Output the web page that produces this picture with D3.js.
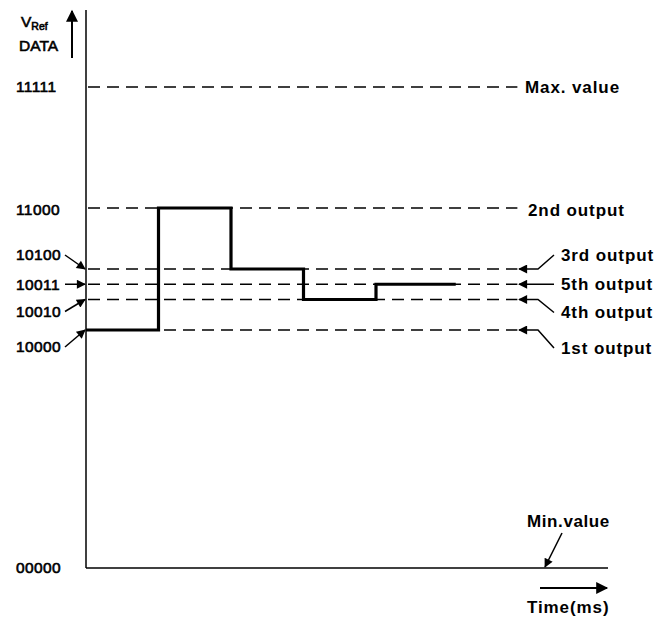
<!DOCTYPE html>
<html>
<head>
<meta charset="utf-8">
<script src="https://cdn.jsdelivr.net/npm/d3@7"></script>
<style>
  html, body { margin: 0; padding: 0; background: #fff; }
  svg { display: block; font-family: "Liberation Sans", Arial, sans-serif; }
</style>
</head>
<body>
<svg id="chart" width="668" height="620"></svg>
<script>
// Digital reference codes shown on the vertical axis
const axisCodes = ["11111", "11000", "10100", "10011", "10010", "10000", "00000"];

// Successive approximation: output code held during each time slot
const stepTimes = [0, 1, 2, 3, 4, 5.1];
const stepCodes = ["10000", "11000", "10100", "10010", "10011"];

// Dashed reference levels and their captions
const refCodes  = ["11111", "11000", "10100", "10011", "10010", "10000"];
const refLabels = ["Max. value", "2nd output", "3rd output", "5th output", "4th output", "1st output"];
const minLabel = "Min.value";
const xTitle = "Time(ms)";

const toVal = s => parseInt(s, 2);

const svg = d3.select("#chart");

const x = d3.scaleLinear().domain([0, 7.2]).range([86, 608]);
const y = d3.scaleLinear().domain([0, 16, 24, 31]).range([568, 330, 208, 87]);

// arrowhead markers
const defs = svg.append("defs");
function marker(id, w, h) {
  defs.append("marker")
    .attr("id", id).attr("viewBox", "0 0 10 10")
    .attr("refX", 9).attr("refY", 5)
    .attr("markerWidth", w).attr("markerHeight", h)
    .attr("markerUnits", "userSpaceOnUse")
    .attr("orient", "auto")
    .append("path").attr("d", "M0,0 L10,5 L0,10 Z").attr("fill", "#000");
}
marker("ah", 12, 9);
marker("ahBig", 18, 12);

// axes
svg.append("line")
  .attr("x1", x(0)).attr("x2", x(0)).attr("y1", 10).attr("y2", y(0))
  .attr("stroke", "#000").attr("stroke-width", 1.5);
svg.append("line")
  .attr("x1", x(0)).attr("x2", x(7.2)).attr("y1", y(0)).attr("y2", y(0))
  .attr("stroke", "#000").attr("stroke-width", 1.5);

// dashed reference levels
const dashEnd = 5.95;
svg.append("g").selectAll("line").data(refCodes).join("line")
  .attr("x1", x(0) + 2).attr("x2", x(dashEnd))
  .attr("y1", d => y(toVal(d))).attr("y2", d => y(toVal(d)))
  .attr("stroke", "#000").attr("stroke-width", 1.6)
  .attr("stroke-dasharray", "12,7");

// step trace of the output code
const stepPts = [];
stepCodes.forEach((c, i) => {
  stepPts.push([stepTimes[i], toVal(c)]);
  stepPts.push([stepTimes[i + 1], toVal(c)]);
});
svg.append("path")
  .attr("d", d3.line().x(d => x(d[0])).y(d => y(d[1]))(stepPts))
  .attr("fill", "none").attr("stroke", "#000").attr("stroke-width", 3.2)
  .attr("stroke-linejoin", "miter");

// left code labels, some pushed apart with pointer arrows
const labelShift = { "11111": 0, "11000": 2, "10100": -14, "10011": 0, "10010": 12, "10000": 17, "00000": 0 };
svg.append("g").selectAll("text").data(axisCodes).join("text")
  .attr("x", 16).attr("y", d => y(toVal(d)) + labelShift[d])
  .attr("dy", "0.35em")
  .attr("font-size", 15.5).attr("fill", "#000")
  .attr("stroke", "#000").attr("stroke-width", 0.6)
  .attr("letter-spacing", 0.4)
  .text(d => d);

["10100", "10011", "10010", "10000"].forEach(c => {
  const ly = y(toVal(c)) + labelShift[c];
  svg.append("line")
    .attr("x1", 65).attr("y1", ly)
    .attr("x2", x(0) - 1).attr("y2", y(toVal(c)))
    .attr("stroke", "#000").attr("stroke-width", 1.5)
    .attr("marker-end", "url(#ah)");
});

// right captions
const capX = { "Max. value": 525, "2nd output": 528 };
const capShift = { "Max. value": 0, "2nd output": 2, "3rd output": -14, "5th output": 0, "4th output": 13, "1st output": 18 };
svg.append("g").selectAll("text").data(refCodes).join("text")
  .attr("x", (d, i) => capX[refLabels[i]] || 561)
  .attr("y", (d, i) => y(toVal(d)) + capShift[refLabels[i]])
  .attr("dy", "0.35em")
  .attr("font-size", 17).attr("font-weight", "bold").attr("fill", "#000")
  .attr("letter-spacing", 0.9)
  .text((d, i) => refLabels[i]);

// pointer arrows from captions to their levels
refCodes.forEach((c, i) => {
  const lab = refLabels[i];
  if (capX[lab]) return;
  const ly = y(toVal(c));
  const sy = ly + capShift[lab];
  const p = d3.path();
  p.moveTo(554, sy);
  if (capShift[lab] !== 0) {
    p.lineTo(538, ly);
  }
  p.lineTo(519, ly);
  svg.append("path").attr("d", p.toString())
    .attr("fill", "none").attr("stroke", "#000").attr("stroke-width", 1.5)
    .attr("marker-end", "url(#ah)");
});

// min value caption
svg.append("text").attr("x", 527).attr("y", 521).attr("dy", "0.35em")
  .attr("font-size", 17).attr("font-weight", "bold").attr("letter-spacing", 0.6)
  .text(minLabel);
svg.append("line").attr("x1", 562).attr("y1", 533).attr("x2", 545).attr("y2", y(0) - 1)
  .attr("stroke", "#000").attr("stroke-width", 1.5).attr("marker-end", "url(#ah)");

// time direction arrow and title
svg.append("line").attr("x1", 540).attr("x2", 607).attr("y1", 588).attr("y2", 588)
  .attr("stroke", "#000").attr("stroke-width", 2).attr("marker-end", "url(#ahBig)");
svg.append("text").attr("x", 527).attr("y", 607).attr("dy", "0.35em")
  .attr("font-size", 17).attr("font-weight", "bold").attr("letter-spacing", 0.9)
  .text(xTitle);

// vertical axis title with upward arrow
const vt = svg.append("text").attr("x", 21).attr("y", 27).attr("font-size", 15.5)
  .attr("stroke", "#000").attr("stroke-width", 0.6);
vt.append("tspan").text("V");
vt.append("tspan").attr("font-size", 10.5).attr("dy", 3).text("Ref");
svg.append("text").attr("x", 19).attr("y", 51).attr("font-size", 15.5)
  .attr("stroke", "#000").attr("stroke-width", 0.6).text("DATA");
svg.append("line").attr("x1", 72).attr("x2", 72).attr("y1", 58).attr("y2", 11)
  .attr("stroke", "#000").attr("stroke-width", 2).attr("marker-end", "url(#ahBig)");
</script>
</body>
</html>
